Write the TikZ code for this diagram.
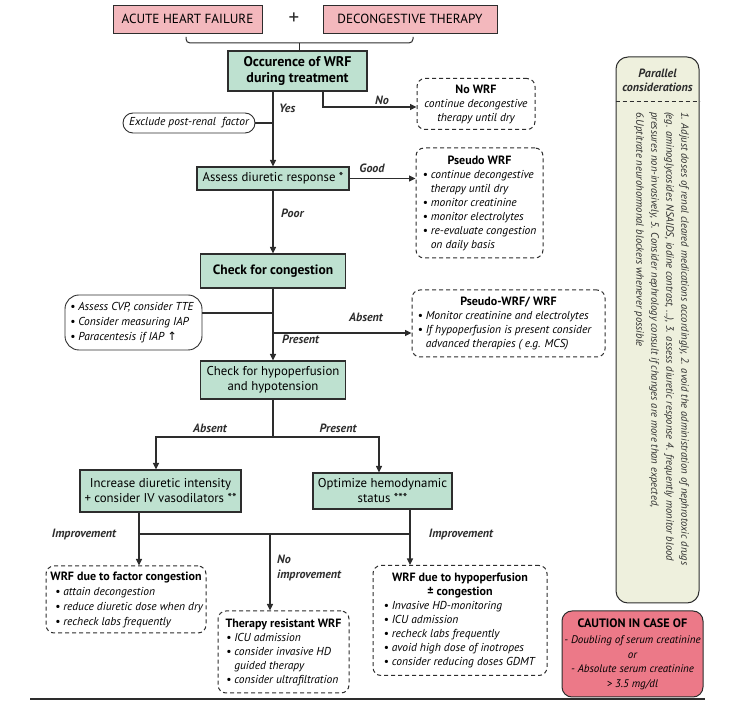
\documentclass[tikz,border=0pt]{standalone}
\usepackage{fontspec}
\setmainfont{PT Sans}
\newfontfamily\dejavu{DejaVu Sans}
\usetikzlibrary{arrows.meta}
\definecolor{pinkA}{RGB}{243,184,189}
\definecolor{pinkB}{RGB}{236,121,136}
\definecolor{greenA}{RGB}{190,225,208}
\definecolor{creamA}{RGB}{238,240,221}
\definecolor{lineC}{RGB}{45,45,45}
\newcommand\fTop{\fontsize{13.2}{15}\selectfont}
\newcommand\fBox{\fontsize{12.8}{15}\selectfont}
\newcommand\fBig{\fontsize{14}{16.5}\selectfont\bfseries}
\newcommand\fList{\fontsize{11.5}{14}\selectfont\itshape}
\newcommand\fTitle{\fontsize{12}{14}\selectfont\bfseries\upshape}
\newcommand\fLbl{\fontsize{12}{15}\selectfont\bfseries\itshape}
\newcommand\myitem[2]{\makebox[#1][l]{\textbullet\ #2}}
\newcommand\mycont[2]{\makebox[#1][l]{\phantom{\textbullet\ }#2}}
\tikzset{
  gbox/.style={draw=lineC, line width=1.2pt, fill=greenA, inner sep=0pt, align=center},
  pbox/.style={draw=lineC, line width=0.9pt, fill=pinkA, inner sep=0pt, align=center},
  dbox/.style={draw=lineC, line width=1pt, dash pattern=on 4pt off 3pt, rounded corners=8pt, inner sep=0pt, align=center, font=\fList},
  rbox/.style={draw=lineC, line width=0.9pt, inner sep=0pt, align=center, font=\fList},
  arr/.style={draw=lineC, line width=1.2pt, -{Triangle[length=6.5pt,width=6pt]}},
  conn/.style={draw=lineC, line width=1.2pt},
  lbl/.style={font=\fLbl, inner sep=1pt, text=lineC}
}
\begin{document}
\begin{tikzpicture}[x=1pt,y=-1pt]
\useasboundingbox (0,0) rectangle (732,708);
% top
\node[pbox, minimum width=149pt, minimum height=28pt, font=\fTop] (ahf) at (187.5,19) {ACUTE HEART FAILURE};
\node[font=\fontsize{21}{21}\selectfont, inner sep=0pt, text=lineC] (plus) at (294,19) {+};
\node[pbox, minimum width=174pt, minimum height=28pt, font=\fTop] (dt) at (410,19) {DECONGESTIVE THERAPY};
\node[gbox, minimum width=139pt, minimum height=40pt, font=\fBig] (wrf) at (297.5,71) {Occurence of WRF\\during treatment};
\coordinate (brL) at (186,37);
\coordinate (brR) at (413,37);
\coordinate (brC) at (299,43);
\draw[conn, line width=1pt, rounded corners=4pt] (brL) -- (brL |- brC) -- (brR |- brC) -- (brR);
\draw[conn, line width=1pt] (brC) -- (brC |- wrf.north);
% no wrf
\node[dbox, minimum width=118pt, minimum height=51pt] (nowrf) at (476,104) {{\fTitle No WRF}\\continue decongestive\\therapy until dry};
\node[rbox, rounded corners=10pt, minimum width=132pt, minimum height=20pt] (excl) at (189,123) {Exclude post-renal\ \ factor};
\node[gbox, minimum width=152pt, minimum height=23pt, font=\fBox] (assess) at (273,178.5) {Assess diuretic response *};
\node[dbox, minimum width=127pt, minimum height=110pt] (pseudo) at (479.5,203) {{\fTitle Pseudo WRF}\\
\myitem{114pt}{continue decongestive}\\
\mycont{114pt}{therapy until dry}\\
\myitem{114pt}{monitor creatinine}\\
\myitem{114pt}{monitor electrolytes}\\
\myitem{114pt}{re-evaluate congestion}\\
\mycont{114pt}{on daily basis}};
\node[gbox, minimum width=145pt, minimum height=34pt, font=\fontsize{13.5}{15}\selectfont\bfseries] (cong) at (273,271) {Check for congestion};
\node[rbox, rounded corners=14pt, minimum width=137pt, minimum height=55pt, font=\fontsize{11.5}{15}\selectfont\itshape] (cvp) at (133.5,322.5) {\myitem{127pt}{Assess\ CVP, consider TTE}\\ \myitem{127pt}{Consider measuring IAP}\\ \myitem{127pt}{Paracentesis if IAP {\dejavu\upshape ↑}}};
\node[dbox, minimum width=193pt, minimum height=67pt] (pwrf) at (508.5,323.5) {{\fTitle Pseudo-WRF/ WRF}\\ \myitem{182pt}{Monitor creatinine and electrolytes}\\ \myitem{182pt}{If hypoperfusion is present consider}\\ \mycont{182pt}{advanced therapies ( e.g. MCS)}};
\node[gbox, minimum width=145pt, minimum height=38pt, font=\fBox] (hypo) at (273,380) {Check for hypoperfusion\\and hypotension};
\node[gbox, minimum width=161pt, minimum height=42pt, font=\fBox] (incr) at (160.5,491) {Increase diuretic intensity\\+ consider IV vasodilators **};
\node[gbox, minimum width=139pt, minimum height=36pt, font=\fBox] (optim) at (382.5,491) {Optimize hemodynamic\\status ***};
\node[dbox, minimum width=160pt, minimum height=67pt, font=\fontsize{11.5}{15}\selectfont\itshape] (wfc) at (126,599.5) {{\fTitle WRF due to factor congestion}\\ \myitem{142pt}{attain decongestion}\\ \myitem{142pt}{reduce diuretic dose when dry}\\ \myitem{142pt}{recheck labs frequently}};
\node[dbox, minimum width=131pt, minimum height=82pt] (trw) at (283.5,652) {{\fTitle Therapy resistant WRF}\\ \myitem{115pt}{ICU admission}\\ \myitem{115pt}{consider invasive HD}\\ \mycont{115pt}{guided therapy}\\ \myitem{115pt}{consider ultrafiltration}};
\node[dbox, minimum width=174pt, minimum height=110pt] (whp) at (460,620.5) {{\fTitle WRF due to hypoperfusion}\\ {\fTitle ± congestion}\\ \myitem{153pt}{Invasive HD-monitoring}\\ \myitem{153pt}{ICU admission}\\ \myitem{153pt}{recheck labs frequently}\\ \myitem{153pt}{avoid high dose of inotropes}\\ \myitem{153pt}{consider reducing doses GDMT}};
% parallel considerations
\node[draw=lineC, line width=1pt, fill=creamA, rounded corners=12pt, minimum width=83pt, minimum height=546pt, inner sep=0pt] (par) at (657.5,330) {};
\node[font=\fontsize{12}{14}\selectfont\bfseries\itshape, align=center, inner sep=0pt, text=lineC] (partitle) at (657.5,80) {Parallel\\considerations};
\coordinate (pd) at (0,101);
\draw[draw=lineC, line width=0.9pt, dash pattern=on 4pt off 3pt] (pd -| par.west) -- (pd -| par.east);
\node[rotate=-90, anchor=north west, font=\fontsize{10.6}{15}\selectfont\itshape, align=left, inner sep=0pt, text=lineC] (partext) at (689,112) {1. Adjust doses of renal cleared medications accordingly, 2. avoid the administration of nephrotoxic drugs\\(eg. aminoglycosides NSAIDS, iodine contrast, ...), 3. assess diuretic response 4. frequently monitor blood\\pressures non-invasively, 5. Consider nephrology consult if changes are more than expected,\\6.Uptitrate neurohormonal blockers whenever possible};
% caution
\node[draw=lineC, line width=1pt, fill=pinkB, rounded corners=10pt, minimum width=141pt, minimum height=86pt, inner sep=0pt, align=center, font=\fontsize{11}{14.5}\selectfont\itshape] (caut) at (632.5,654) {{\fontsize{12.2}{14.5}\selectfont\bfseries\upshape CAUTION IN CASE OF}\\[2pt]- Doubling of serum creatinine\\or\\- Absolute serum creatinine\\> 3.5 mg/dl};
\coordinate (bl1) at (30,699);
\coordinate (bl2) at (705,699);
\draw[draw=lineC, line width=1.6pt] (bl1) -- (bl2);
% connectors
\draw[arr] (wrf.south -| assess.north) -- (assess.north);
\coordinate (nob) at (323,107);
\draw[arr] (wrf.south -| nob) -- (nob) -- (nob -| nowrf.west);
\draw[conn] (excl.east) -- (excl.east -| assess.north);
\draw[arr] (assess.east) -- (assess.east -| pseudo.west);
\draw[arr] (assess.south) -- (cong.north);
\coordinate (cj) at (273,313);
\draw[conn] (cj -| cvp.east) -- (cj);
\coordinate (aj) at (273,333);
\draw[arr] (aj) -- (aj -| pwrf.west);
\draw[arr] (cong.south) -- (hypo.north);
\coordinate (hs) at (273,437);
\coordinate (hl) at (156,437);
\coordinate (hr) at (379,437);
\draw[conn] (hypo.south) -- (hs);
\draw[arr] (hs) -- (hl) -- (hl |- incr.north);
\draw[arr] (hs) -- (hr) -- (hr |- optim.north);
\coordinate (bl) at (139,534);
\coordinate (bc) at (270,534);
\coordinate (br) at (410,534);
\draw[arr] (bl |- incr.south) -- (bl |- wfc.north);
\draw[arr] (br |- optim.south) -- (br |- whp.north);
\draw[conn] (bl) -- (br);
\draw[arr] (bc) -- (bc |- trw.north);
% labels
\node[lbl, anchor=west] (lyes) at (278,108) {Yes};
\node[lbl] (lno) at (382,100) {No};
\node[lbl] (lgood) at (372,168) {Good};
\node[lbl, anchor=west] (lpoor) at (280,213) {Poor};
\node[lbl] (labs1) at (366,317) {Absent};
\node[lbl, anchor=west] (lpres1) at (281,339) {Present};
\node[lbl] (labs2) at (210,428) {Absent};
\node[lbl] (lpres2) at (338,428) {Present};
\node[lbl] (limp1) at (84,535) {Improvement};
\node[lbl] (limp2) at (461,535) {Improvement};
\node[lbl, anchor=west, align=left] (lnoimp) at (276,568) {No\\improvement};
\end{tikzpicture}
\end{document}
